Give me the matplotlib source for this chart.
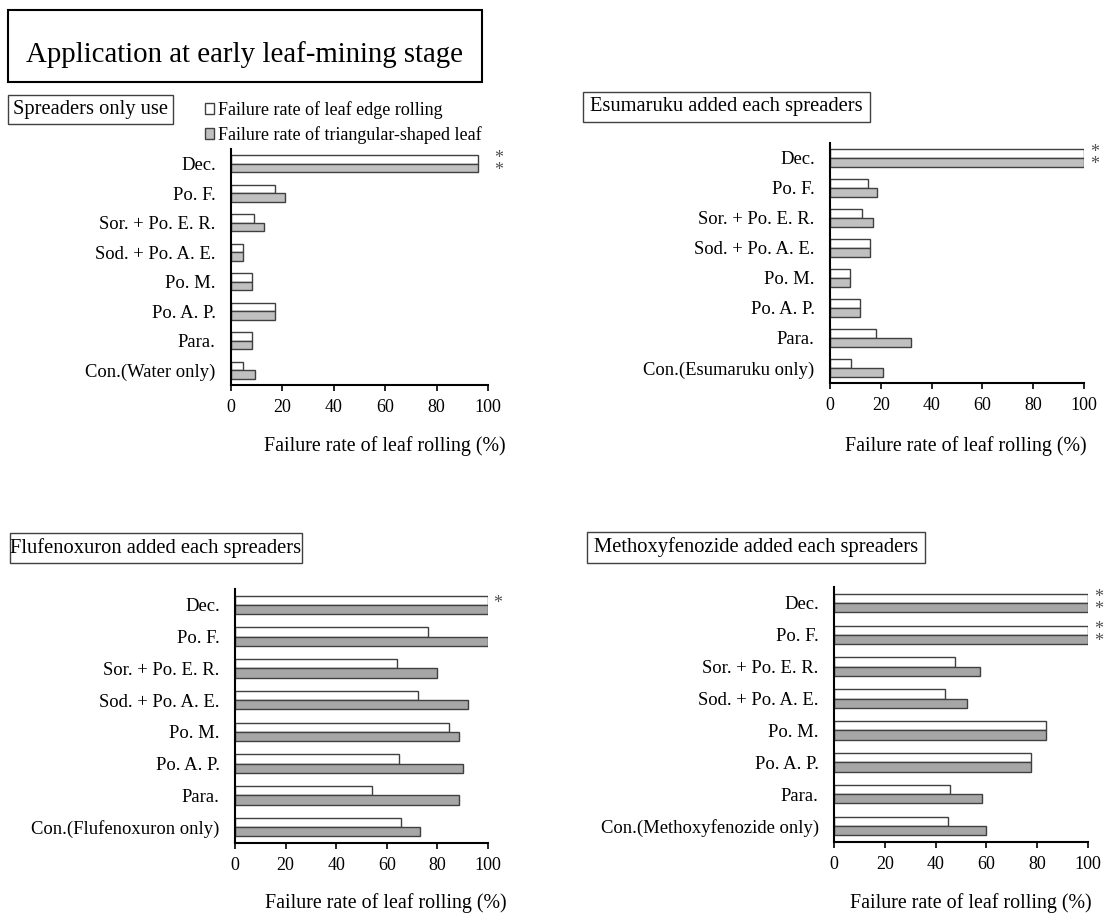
import matplotlib.pyplot as plt
from matplotlib.patches import Patch, Rectangle

plt.rcParams['font.family'] = ['Liberation Serif', 'DejaVu Serif']

# treatments, listed from top to bottom
treatments = ["Dec.", "Po. F.", "Sor. + Po. E. R.", "Sod. + Po. A. E.",
              "Po. M.", "Po. A. P.", "Para."]
controls = ["Con.(Water only)", "Con.(Esumaruku only)",
            "Con.(Flufenoxuron only)", "Con.(Methoxyfenozide only)"]
panel_titles = ["Spreaders only use", "Esumaruku added each spreaders",
                "Flufenoxuron added each spreaders",
                "Methoxyfenozide added each spreaders"]

# failure rate (%) of leaf edge rolling / triangular-shaped leaf
edge_spreaders = [96, 17, 9, 4.5, 8.3, 17, 8.3, 4.5]
tri_spreaders = [96, 21, 13, 4.5, 8.3, 17, 8.3, 9.2]
edge_esumaruku = [100, 15, 12.7, 15.7, 8, 12, 18, 8.4]
tri_esumaruku = [100, 18.5, 16.8, 15.7, 8, 12, 31.8, 20.7]
edge_flufenoxuron = [100, 76.3, 64, 72.2, 84.7, 65, 54, 65.7]
tri_flufenoxuron = [100, 100, 80, 92.2, 88.4, 90.1, 88.4, 73.1]
edge_methoxyfenozide = [100, 100, 47.5, 43.6, 83.3, 77.4, 45.8, 44.9]
tri_methoxyfenozide = [100, 100, 57.3, 52.4, 83.3, 77.4, 58.3, 59.8]

# significance marks per panel: row -> "*" on edge bar, triangular bar or both
marks = [{0: 'both'}, {0: 'both'}, {0: 'edge'}, {0: 'both', 1: 'both'}]

edge_data = [edge_spreaders, edge_esumaruku, edge_flufenoxuron, edge_methoxyfenozide]
tri_data = [tri_spreaders, tri_esumaruku, tri_flufenoxuron, tri_methoxyfenozide]
grays = ['#c0c0c0', '#c0c0c0', '#a6a6a6', '#a6a6a6']

W, H = 1115, 917
fig = plt.figure(figsize=(W / 100, H / 100), dpi=100)

def px_axes(x0, y0, x1, y1):
    return fig.add_axes([x0 / W, 1 - y1 / H, (x1 - x0) / W, (y1 - y0) / H])

def px_box(x0, y0, x1, y1, lw=1.0, color='#404040'):
    fig.patches.append(Rectangle((x0 / W, 1 - y1 / H), (x1 - x0) / W, (y1 - y0) / H,
                                 transform=fig.transFigure, fill=False,
                                 edgecolor=color, linewidth=lw))

axes_px = [(231, 149, 488, 385), (830, 143, 1084, 383),
           (235, 589, 488, 843), (834, 587, 1088, 842)]
xlabel_pos = [(0.60, -0.258), (0.535, -0.262), (0.597, -0.236), (0.54, -0.239)]

bh = 0.29
for k in range(4):
    ax = px_axes(*axes_px[k])
    labels = treatments + [controls[k]]
    ys = list(range(len(labels)))
    ax.barh([y - bh / 2 for y in ys], edge_data[k], height=bh, color='white',
            edgecolor='#404040', linewidth=1.0)
    ax.barh([y + bh / 2 for y in ys], tri_data[k], height=bh, color=grays[k],
            edgecolor='#404040', linewidth=1.0)
    for row, which in marks[k].items():
        if which == 'both':
            ax.text(104, row + 0.02, "*\n*", ha='center', va='center', fontsize=13,
                    linespacing=0.62, color='#505050', clip_on=False)
        else:
            ax.text(104, row - bh / 2 + 0.1, "*", ha='center', va='center',
                    fontsize=13, color='#505050', clip_on=False)
    ax.set_xlim(0, 100)
    ax.set_ylim(len(labels) - 0.5, -0.5)
    ax.set_yticks(ys)
    ax.set_yticklabels(labels, fontsize=13.4)
    ax.set_xticks(range(0, 101, 20))
    ax.tick_params(axis='x', labelsize=13, length=4, width=1.2, pad=6)
    ax.tick_params(axis='y', length=0, pad=11)
    for side in ['top', 'right']:
        ax.spines[side].set_visible(False)
    for side in ['left', 'bottom']:
        ax.spines[side].set_linewidth(1.5)
    ax.text(xlabel_pos[k][0], xlabel_pos[k][1], "Failure rate of leaf rolling (%)",
            transform=ax.transAxes, ha='center', va='center', fontsize=14.4)

# main heading
px_box(8, 10, 482, 82, lw=1.5, color='black')
fig.text(244 / W, 1 - 55 / H, "Application at early leaf-mining stage",
         ha='center', va='center', fontsize=20.8)

# panel headings
head_px = [(8, 95, 173, 124), (583, 92, 870, 122), (10, 533, 302, 563), (587, 532, 925, 563)]
for (x0, y0, x1, y1), t in zip(head_px, panel_titles):
    px_box(x0, y0, x1, y1)
    fig.text((x0 + x1) / 2 / W, 1 - (y0 + y1) / 2 / H, t, ha='center', va='center',
             fontsize=14.8)

handles = [Patch(facecolor='white', edgecolor='#404040', linewidth=1.0),
           Patch(facecolor='#c0c0c0', edgecolor='#404040', linewidth=1.0)]
fig.legend(handles, ["Failure rate of leaf edge rolling",
                     "Failure rate of triangular-shaped leaf"],
           loc='upper left', bbox_to_anchor=(205 / W, 1 - 101 / H), frameon=False,
           fontsize=13, handlelength=0.5, handleheight=0.5, handletextpad=0.2,
           labelspacing=0.4, borderpad=0, borderaxespad=0)

plt.savefig("out.png", dpi=100)
